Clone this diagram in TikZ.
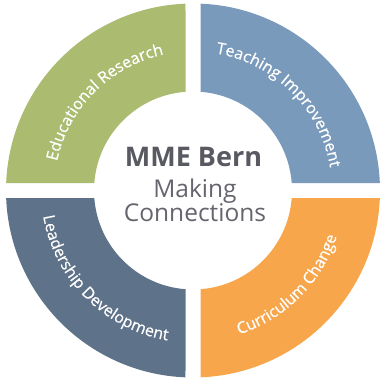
\documentclass[tikz,border=0pt]{standalone}
\usepackage{fontspec}
\setmainfont{Open Sans}
\usetikzlibrary{decorations.text}
\definecolor{qgreen}{RGB}{171,187,112}
\definecolor{qblue}{RGB}{122,154,187}
\definecolor{qslate}{RGB}{94,114,137}
\definecolor{qorange}{RGB}{247,166,75}
\definecolor{ctext}{RGB}{88,89,97}
\definecolor{ctextl}{RGB}{100,101,109}
\newfontfamily\arcfont[FakeBold=0.6]{Open Sans}
\begin{document}
\begin{tikzpicture}[x=1pt,y=1pt,
  arclabel/.style={decorate, decoration={text along path, text align=center, text color=white}},
  centertext/.style={anchor=base, text=ctext, inner sep=0pt}]
\useasboundingbox (-193,-190.5) rectangle (189,190.5);
% quadrants
\fill[qgreen] (177.70:187pt) arc[start angle=177.70,end angle=92.30,radius=187pt]
  -- (94.345:99pt) arc[start angle=94.345,end angle=175.655,radius=99pt] -- cycle;
\fill[qblue] (87.70:187pt) arc[start angle=87.70,end angle=2.30,radius=187pt]
  -- (4.345:99pt) arc[start angle=4.345,end angle=85.655,radius=99pt] -- cycle;
\fill[qorange] (-2.30:187pt) arc[start angle=-2.30,end angle=-87.70,radius=187pt]
  -- (-85.655:99pt) arc[start angle=-85.655,end angle=-4.345,radius=99pt] -- cycle;
\fill[qslate] (-92.30:187pt) arc[start angle=-92.30,end angle=-177.70,radius=187pt]
  -- (-175.655:99pt) arc[start angle=-175.655,end angle=-94.345,radius=99pt] -- cycle;
% curved labels
\path[arclabel, decoration={text={|\arcfont\fontsize{16}{16}\selectfont|Educational Research}}]
  (180:139pt) arc[start angle=180,end angle=90,radius=139pt];
\path[arclabel, decoration={text={|\arcfont\fontsize{16}{16}\selectfont|Teaching Improvement}}]
  (90:139pt) arc[start angle=90,end angle=0,radius=139pt];
\path[arclabel, decoration={text={|\arcfont\fontsize{16}{16}\selectfont|Leadership Development}}]
  (180:152pt) arc[start angle=180,end angle=270,radius=152pt];
\path[arclabel, decoration={text={|\arcfont\fontsize{16}{16}\selectfont|Curriculum Change}}]
  (270:151pt) arc[start angle=270,end angle=360,radius=151pt];
% centre text
\node[centertext, font=\bfseries\fontsize{27}{27}\selectfont] (title) at (0.5,23.8) {MME Bern};
\node[centertext, text=ctextl, font=\fontsize{24.5}{24.5}\selectfont] (making) at (2,-6.5) {Making};
\node[centertext, text=ctextl, font=\fontsize{24.5}{24.5}\selectfont] (conn) at (2,-31.2) {Connections};
\end{tikzpicture}
\end{document}
